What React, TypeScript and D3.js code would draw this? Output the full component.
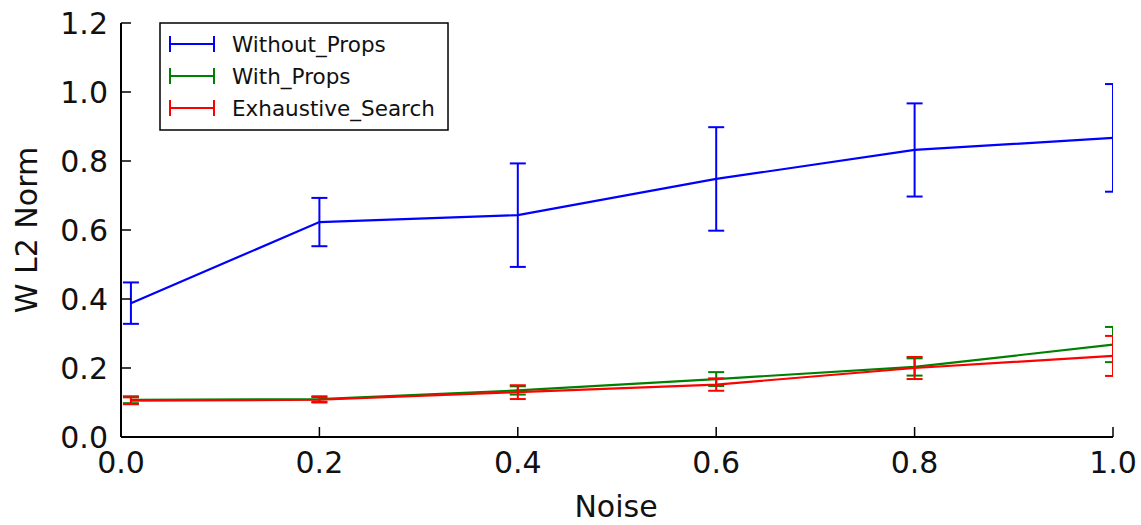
import React from "react";
import * as d3 from "d3";

const noise = [0.01, 0.2, 0.4, 0.6, 0.8, 1.0];
const withoutProps = [0.388, 0.623, 0.643, 0.748, 0.832, 0.867];
const withoutPropsErr = [0.06, 0.07, 0.15, 0.15, 0.135, 0.156];
const withProps = [0.108, 0.11, 0.135, 0.168, 0.203, 0.268];
const withPropsErr = [0.01, 0.008, 0.012, 0.02, 0.025, 0.051];
const exhaustive = [0.105, 0.108, 0.13, 0.152, 0.2, 0.235];
const exhaustiveErr = [0.01, 0.008, 0.02, 0.018, 0.032, 0.058];
const xTicks = [0.0, 0.2, 0.4, 0.6, 0.8, 1.0];
const yTicks = [0.0, 0.2, 0.4, 0.6, 0.8, 1.0, 1.2];

const seriesList = [
  { name: "Without_Props", values: withoutProps, errs: withoutPropsErr, color: "#0000ff" },
  { name: "With_Props", values: withProps, errs: withPropsErr, color: "#008000" },
  { name: "Exhaustive_Search", values: exhaustive, errs: exhaustiveErr, color: "#ff0000" },
];

export default function App() {
  const W = 1141, H = 525;
  const left = 121, right = 1113, top = 23, bottom = 437;
  const x = d3.scaleLinear().domain([0, 1]).range([left, right]);
  const y = d3.scaleLinear().domain([0, 1.2]).range([bottom, top]);
  const font = "'DejaVu Sans', sans-serif";
  const line = d3.line<number>().x((_, i) => x(noise[i])).y((v) => y(v));
  const cap = 8;

  return (
    <svg width={W} height={H} style={{ position: "absolute", left: 0, top: 0, background: "#fff" }} fontFamily={font}>
      <defs>
        <clipPath id="axclip">
          <rect x={left} y={top} width={right - left} height={bottom - top} />
        </clipPath>
      </defs>
      <rect x={0} y={0} width={W} height={H} fill="#fff" />
      <g clipPath="url(#axclip)">
        {seriesList.map((s) => (
          <g key={s.name}>
            <path d={line(s.values) || ""} fill="none" stroke={s.color} strokeWidth={2.2} />
            {s.values.map((v, i) => {
              const cx = x(noise[i]);
              const y1 = y(v + s.errs[i]);
              const y0 = y(v - s.errs[i]);
              return (
                <g key={i} stroke={s.color} strokeWidth={2}>
                  <line x1={cx} x2={cx} y1={y1} y2={y0} />
                  <line x1={cx - cap} x2={cx + cap} y1={y1} y2={y1} />
                  <line x1={cx - cap} x2={cx + cap} y1={y0} y2={y0} />
                </g>
              );
            })}
          </g>
        ))}
      </g>
      {/* spines */}
      <line x1={left} x2={left} y1={top} y2={bottom} stroke="#000" strokeWidth={2} />
      <line x1={left} x2={right} y1={bottom} y2={bottom} stroke="#000" strokeWidth={2} />
      {xTicks.map((t) => (
        <g key={"x" + t}>
          <line x1={x(t)} x2={x(t)} y1={bottom} y2={bottom - 10} stroke="#000" strokeWidth={1.5} />
          <text x={x(t)} y={473} textAnchor="middle" fontSize={30} fill="#111">
            {t.toFixed(1)}
          </text>
        </g>
      ))}
      {yTicks.map((t) => (
        <g key={"y" + t}>
          <line x1={left} x2={left + 10} y1={y(t)} y2={y(t)} stroke="#000" strokeWidth={1.5} />
          <text x={108} y={y(t)} dy="0.36em" textAnchor="end" fontSize={30} fill="#111">
            {t.toFixed(1)}
          </text>
        </g>
      ))}
      <text x={616} y={517} textAnchor="middle" fontSize={30} fill="#111">Noise</text>
      <text transform={`translate(37,${(top + bottom) / 2}) rotate(-90)`} textAnchor="middle" fontSize={30} fill="#111">
        W L2 Norm
      </text>
      {/* legend */}
      <rect x={160} y={23} width={288} height={107} fill="#fff" stroke="#000" strokeWidth={1.5} />
      {seriesList.map((s, i) => {
        const ly = 44 + i * 32;
        return (
          <g key={"lg" + s.name}>
            <g stroke={s.color} strokeWidth={2}>
              <line x1={170} x2={214} y1={ly} y2={ly} />
              <line x1={170} x2={170} y1={ly - 8} y2={ly + 8} />
              <line x1={214} x2={214} y1={ly - 8} y2={ly + 8} />
            </g>
            <text x={232} y={ly} dy="0.36em" fontSize={21.5} fill="#111">
              {s.name}
            </text>
          </g>
        );
      })}
    </svg>
  );
}
